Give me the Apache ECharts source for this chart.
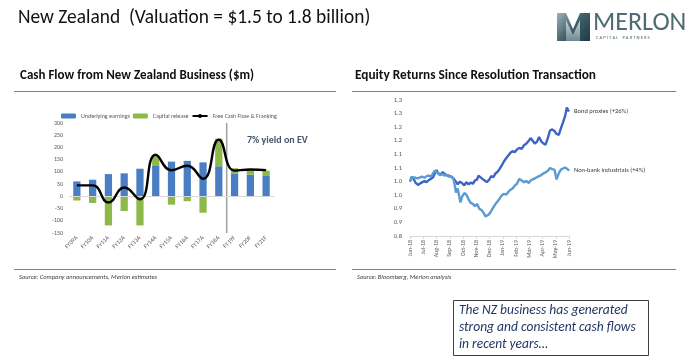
<!DOCTYPE html>
<html><head><meta charset="utf-8">
<script src="https://cdn.jsdelivr.net/npm/echarts@6/dist/echarts.min.js"></script>
<style>html,body{margin:0;padding:0;background:#fff}#c{width:691px;height:363px}</style>
</head><body><div id="c"></div>
<script>
// ---------- Left chart data ----------
var categories = ['FY09A','FY10A','FY11A','FY12A','FY13A','FY14A','FY15A','FY16A','FY17A','FY18A','FY19F','FY20F','FY21F'];
var underlyingEarnings = [61, 68, 91, 94, 113, 127, 142, 145, 139, 123, 94, 89, 86];
var capitalRelease = [-17, -27, -119, -60, -119, 39, -34, -20, -67, 113, 21, 20, 19];
var freeCashFlow = [45, 45, -25, 36, -12, 170, 107, 125, 72, 232, 105, 110, 107];
var leftYTicks = [-150, -100, -50, 0, 50, 100, 150, 200, 250, 300];
var forecastStart = 'FY19F';

// ---------- Right chart data ----------
var monthLabels = ['Jun-18','Jul-18','Aug-18','Sep-18','Oct-18','Nov-18','Dec-18','Jan-19','Feb-19','Mar-19','Apr-19','May-19','Jun-19'];
var rightYLabels = ['0.8','0.9','0.9','1.0','1.0','1.1','1.1','1.2','1.2','1.3','1.3'];
var bondDates = ['2018-06-01','2018-06-05','2018-06-09','2018-06-14','2018-06-19','2018-06-24','2018-06-29','2018-07-04','2018-07-09','2018-07-14','2018-07-19','2018-07-24','2018-07-28','2018-08-01','2018-08-05','2018-08-10','2018-08-15','2018-08-20','2018-08-25','2018-08-30','2018-09-04','2018-09-09','2018-09-14','2018-09-19','2018-09-24','2018-09-29','2018-10-04','2018-10-09','2018-10-14','2018-10-19','2018-10-24','2018-10-29','2018-11-03','2018-11-06','2018-11-10','2018-11-15','2018-11-20','2018-11-25','2018-11-30','2018-12-05','2018-12-10','2018-12-15','2018-12-20','2018-12-25','2018-12-30','2019-01-04','2019-01-09','2019-01-14','2019-01-19','2019-01-24','2019-01-29','2019-02-03','2019-02-08','2019-02-13','2019-02-18','2019-02-23','2019-02-28','2019-03-04','2019-03-09','2019-03-14','2019-03-19','2019-03-24','2019-03-29','2019-04-03','2019-04-08','2019-04-13','2019-04-18','2019-04-23','2019-04-28','2019-05-03','2019-05-08','2019-05-13','2019-05-18','2019-05-23','2019-05-27','2019-05-30','2019-06-01'];
var bondProxies = [1.000,1.018,1.010,0.995,0.988,0.993,0.998,1.002,0.998,1.006,1.010,1.016,1.030,1.042,1.030,1.024,1.035,1.028,1.024,1.022,1.018,1.012,1.002,0.990,1.000,0.994,0.986,0.998,0.990,0.996,0.992,1.004,1.008,1.022,1.016,1.010,1.004,0.998,1.006,1.020,1.016,1.030,1.036,1.048,1.060,1.075,1.086,1.096,1.106,1.112,1.108,1.118,1.124,1.120,1.134,1.140,1.150,1.160,1.150,1.140,1.146,1.164,1.148,1.140,1.136,1.160,1.188,1.192,1.186,1.175,1.172,1.196,1.218,1.242,1.272,1.262,1.258];
var nonBankDates = ['2018-06-01','2018-06-05','2018-06-09','2018-06-14','2018-06-19','2018-06-24','2018-06-29','2018-07-04','2018-07-09','2018-07-14','2018-07-19','2018-07-24','2018-07-28','2018-08-01','2018-08-05','2018-08-10','2018-08-15','2018-08-20','2018-08-25','2018-08-30','2018-09-04','2018-09-09','2018-09-12','2018-09-15','2018-09-19','2018-09-22','2018-09-25','2018-09-29','2018-10-04','2018-10-09','2018-10-14','2018-10-19','2018-10-24','2018-10-29','2018-11-03','2018-11-08','2018-11-13','2018-11-18','2018-11-22','2018-11-26','2018-11-30','2018-12-05','2018-12-10','2018-12-15','2018-12-20','2018-12-25','2018-12-30','2019-01-04','2019-01-09','2019-01-14','2019-01-19','2019-01-24','2019-01-29','2019-02-03','2019-02-08','2019-02-13','2019-02-18','2019-02-23','2019-02-28','2019-03-04','2019-03-09','2019-03-14','2019-03-19','2019-03-24','2019-03-29','2019-04-03','2019-04-08','2019-04-13','2019-04-18','2019-04-23','2019-04-28','2019-05-03','2019-05-08','2019-05-13','2019-05-18','2019-05-23','2019-05-27','2019-05-30','2019-06-01'];
var nonBankIndustrials = [1.000,1.016,1.010,1.014,1.012,1.016,1.018,1.014,1.020,1.022,1.018,1.030,1.040,1.046,1.032,1.024,1.028,1.022,1.024,1.018,1.020,1.012,0.990,0.960,0.975,0.950,0.924,0.945,0.958,0.952,0.935,0.922,0.918,0.910,0.918,0.900,0.895,0.884,0.872,0.868,0.880,0.892,0.905,0.918,0.928,0.938,0.950,0.955,0.952,0.962,0.970,0.975,0.985,0.992,1.010,1.004,0.998,1.002,0.995,1.004,1.008,1.012,1.016,1.020,1.024,1.030,1.034,1.040,1.050,1.046,1.044,1.008,1.030,1.044,1.048,1.052,1.050,1.044,1.040];

// ---------- helpers ----------
// position a date on a month scale: 0 = Jun-18, 12 = Jun-19
function monthPos(s){
  var p = s.split('-'), y = +p[0], m = +p[1], d = +p[2];
  var dim = new Date(y, m, 0).getDate();
  return (y - 2018) * 12 + (m - 6) + (d - 1) / dim;
}
function zip(dates, vals){ return dates.map(function(d,i){ return [monthPos(d), vals[i]]; }); }
var divIdx = categories.indexOf(forecastStart);

var FONT = 'Carlito, Lato, sans-serif';
var AX = '#595959';

var chart = echarts.init(document.getElementById('c'), null, {renderer:'canvas'});
chart.setOption({
  animation: false,
  textStyle: {fontFamily: FONT},
  legend: {
    data: ['Underlying earnings','Capital release','Free Cash Flow & Franking'],
    left: 56, top: 108, itemWidth: 15, itemHeight: 5, itemGap: 3,
    textStyle: {fontSize: 6, color: AX, fontFamily: FONT}
  },
  grid: [
    {left: 69, top: 123, width: 205, height: 110},
    {left: 410, top: 100, width: 159, height: 136}
  ],
  xAxis: [
    {type:'category', gridIndex:0, data: categories, axisLine:{show:false}, axisTick:{show:false},
     axisLabel:{rotate:45, fontSize:6, color:AX, margin:4, interval:0}},
    {type:'value', gridIndex:0, min:0, max:categories.length, show:false},
    {type:'value', gridIndex:1, min:0, max:monthLabels.length-1, interval:1,
     axisLine:{show:true, lineStyle:{color:'#D9D9D9', width:1}},
     axisTick:{show:true, length:3, lineStyle:{color:'#D9D9D9'}},
     axisLabel:{rotate:90, fontSize:6, color:AX, margin:4,
       formatter:function(v){ return monthLabels[Math.round(v)] || ''; }},
     splitLine:{show:false}}
  ],
  yAxis: [
    {type:'value', gridIndex:0, min:leftYTicks[0], max:leftYTicks[leftYTicks.length-1], interval:leftYTicks[1]-leftYTicks[0],
     axisLine:{show:false}, axisTick:{show:false}, splitLine:{show:false},
     axisLabel:{fontSize:6, color:AX, margin:6}},
    {type:'value', gridIndex:1, min:0.8, max:1.3, interval:0.05,
     axisLine:{show:false}, axisTick:{show:false}, splitLine:{show:false},
     axisLabel:{fontSize:6.5, color:AX, margin:8,
       formatter:function(v){ return rightYLabels[Math.round((v-0.8)/0.05)]; }}}
  ],
  series: [
    {name:'Underlying earnings', type:'bar', xAxisIndex:0, yAxisIndex:0, stack:'cf', data: underlyingEarnings,
     barWidth:'46%', itemStyle:{color:'#4A7EC3'},
     markLine:{silent:true, symbol:'none', label:{show:false}, lineStyle:{color:'#D9D9D9', width:1, type:'solid'}, data:[{yAxis:0}]}},
    {name:'Capital release', type:'bar', xAxisIndex:0, yAxisIndex:0, stack:'cf', data: capitalRelease,
     barWidth:'46%', itemStyle:{color:'#8DB84A'}},
    {name:'Free Cash Flow & Franking', type:'line', xAxisIndex:0, yAxisIndex:0, data: freeCashFlow,
     smooth:0.5, showSymbol:false, symbol:'none', lineStyle:{color:'#000', width:2.4}, itemStyle:{color:'#000'}, z:5},
    {name:'divider', type:'line', xAxisIndex:1, yAxisIndex:0, symbol:'none',
     data:[[divIdx, leftYTicks[0]],[divIdx, leftYTicks[leftYTicks.length-1]]],
     lineStyle:{color:'#A0A0A0', width:1.5}, silent:true},
    {name:'Bond proxies (+26%)', type:'line', xAxisIndex:2, yAxisIndex:1, data: zip(bondDates, bondProxies),
     showSymbol:false, symbol:'none', lineStyle:{color:'#3C63C6', width:2.4},
     endLabel:{show:true, formatter:'{a}', fontSize:6.5, color:'#404040', distance:5, fontFamily:FONT}},
    {name:'Non-bank industrials (+4%)', type:'line', xAxisIndex:2, yAxisIndex:1, data: zip(nonBankDates, nonBankIndustrials),
     showSymbol:false, symbol:'none', lineStyle:{color:'#5B9BD5', width:2.4},
     endLabel:{show:true, formatter:'{a}', fontSize:6.5, color:'#404040', distance:5, fontFamily:FONT}}
  ],
  graphic: [
    {type:'text', left:18, top:9, style:{text:'New Zealand  (Valuation = $1.5 to 1.8 billion)', font:'19.4px ' + FONT, fill:'#111'}},
    // logo
    {type:'polygon', shape:{points:[[557,13],[566,13],[573,29],[580,13],[590,13],[590,41],[557,41]]},
     style:{fill:new echarts.graphic.LinearGradient(0,0,1,1,[{offset:0,color:'#9DB2B8'},{offset:0.5,color:'#3F5F69'},{offset:1,color:'#1F3A44'}])}},
    {type:'polygon', shape:{points:[[566,20],[573,35],[580,20],[580,41],[566,41]]},
     style:{fill:new echarts.graphic.LinearGradient(0,0,0,1,[{offset:0,color:'#C9D5D8'},{offset:1,color:'#6E8A93'}])}},
    {type:'text', left:593, top:10, style:{text:'MERLON', font:'300 26px ' + FONT, fill:'#4E6B75'}},
    {type:'text', left:596, top:35, style:{text:'C A P I T A L    P A R T N E R S', font:'4.7px ' + FONT, fill:'#4E6B75'}},
    // chart titles
    {type:'text', left:20, top:69, style:{text:'Cash Flow from New Zealand Business ($m)', font:'bold 13px ' + FONT, fill:'#111'}},
    {type:'text', left:355, top:69, style:{text:'Equity Returns Since Resolution Transaction', font:'bold 13.3px ' + FONT, fill:'#111'}},
    {type:'line', shape:{x1:14, y1:91.5, x2:336, y2:91.5}, style:{stroke:'#808080', lineWidth:1}},
    {type:'line', shape:{x1:352, y1:91.5, x2:676, y2:91.5}, style:{stroke:'#808080', lineWidth:1}},
    {type:'text', left:247, top:135, style:{text:'7% yield on EV', font:'bold 10px ' + FONT, fill:'#44546A'}},
    // bottom rules + sources
    {type:'line', shape:{x1:14, y1:269.5, x2:336, y2:269.5}, style:{stroke:'#808080', lineWidth:1}},
    {type:'line', shape:{x1:352, y1:269.5, x2:676, y2:269.5}, style:{stroke:'#808080', lineWidth:1}},
    {type:'text', left:19, top:274, style:{text:'Source: Company announcements, Merlon estimates', font:'italic 6.5px ' + FONT, fill:'#404040'}},
    {type:'text', left:357, top:274, style:{text:'Source: Bloomberg, Merlon analysis', font:'italic 6.5px ' + FONT, fill:'#404040'}},
    // callout box
    {type:'rect', shape:{x:453.5, y:300.5, width:195, height:55}, style:{fill:'#fff', stroke:'#404040', lineWidth:1}},
    {type:'text', left:459, top:302, style:{text:'The NZ business has generated\nstrong and consistent cash flows\nin recent years\u2026', font:'italic 13.5px ' + FONT, fill:'#1F3864', lineHeight:17}}
  ]
});
</script></body></html>
